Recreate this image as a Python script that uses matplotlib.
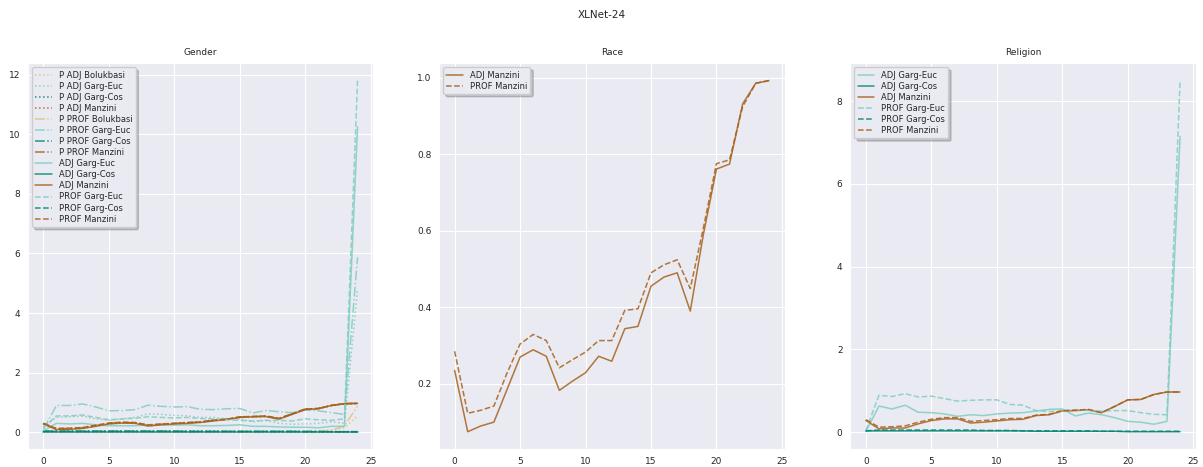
import matplotlib
matplotlib.use("Agg")
import matplotlib.pyplot as plt
import seaborn as sns

sns.set_style("darkgrid")
plt.rcParams['font.family'] = ['DejaVu Sans']

layers = list(range(25))

# colours per bias measure (BrBG)
c_boluk = '#dfc27d'
c_euc = '#80cdc1'
c_cos = '#018571'
c_manz = '#a6611a'

# ---------------- Gender ----------------
g_p_adj_boluk = [0.04, 0.03, 0.03, 0.03, 0.03, 0.03, 0.03, 0.03, 0.03, 0.03, 0.03, 0.03, 0.03,
                 0.03, 0.03, 0.03, 0.03, 0.03, 0.03, 0.03, 0.04, 0.05, 0.08, 0.15, 0.55]
g_p_adj_euc = [0.2, 0.5, 0.52, 0.54, 0.45, 0.4, 0.45, 0.5, 0.62, 0.6, 0.57, 0.55, 0.5,
               0.5, 0.45, 0.45, 0.35, 0.4, 0.3, 0.27, 0.28, 0.3, 0.35, 0.3, 4.8]
g_p_adj_cos = [0.03, 0.03, 0.03, 0.03, 0.03, 0.03, 0.03, 0.03, 0.03, 0.03, 0.03, 0.03, 0.03,
               0.03, 0.03, 0.02, 0.02, 0.02, 0.02, 0.02, 0.02, 0.02, 0.02, 0.02, 0.02]
g_p_adj_manz = [0.29, 0.1, 0.11, 0.14, 0.21, 0.29, 0.32, 0.31, 0.22, 0.26, 0.29, 0.31, 0.34,
                0.39, 0.43, 0.5, 0.52, 0.53, 0.45, 0.61, 0.77, 0.79, 0.9, 0.96, 0.97]
g_p_prof_boluk = [0.04, 0.02, 0.02, 0.02, 0.02, 0.02, 0.02, 0.02, 0.02, 0.02, 0.02, 0.02, 0.02,
                  0.02, 0.02, 0.02, 0.02, 0.02, 0.02, 0.02, 0.02, 0.02, 0.06, 0.22, 0.88]
g_p_prof_euc = [0.1, 0.9, 0.9, 0.95, 0.85, 0.72, 0.73, 0.76, 0.91, 0.87, 0.85, 0.86, 0.77,
                0.76, 0.79, 0.8, 0.65, 0.73, 0.69, 0.66, 0.75, 0.72, 0.66, 0.6, 5.87]
g_p_prof_cos = [0.04, 0.04, 0.04, 0.04, 0.04, 0.04, 0.04, 0.04, 0.04, 0.04, 0.04, 0.03, 0.03,
                0.03, 0.03, 0.03, 0.03, 0.03, 0.03, 0.03, 0.03, 0.03, 0.02, 0.02, 0.02]
g_p_prof_manz = [0.3, 0.12, 0.13, 0.15, 0.23, 0.3, 0.33, 0.32, 0.24, 0.27, 0.3, 0.32, 0.35,
                 0.4, 0.44, 0.51, 0.53, 0.54, 0.46, 0.62, 0.78, 0.8, 0.9, 0.96, 0.97]
g_adj_euc = [0.05, 0.3, 0.28, 0.3, 0.25, 0.22, 0.22, 0.22, 0.25, 0.25, 0.24, 0.25, 0.22,
             0.22, 0.23, 0.25, 0.2, 0.2, 0.18, 0.17, 0.17, 0.15, 0.2, 0.2, 10.25]
g_adj_cos = [0.02, 0.02, 0.02, 0.02, 0.02, 0.02, 0.02, 0.02, 0.02, 0.02, 0.02, 0.02, 0.02,
             0.02, 0.02, 0.02, 0.02, 0.02, 0.02, 0.02, 0.02, 0.02, 0.02, 0.02, 0.02]
g_adj_manz = [0.28, 0.09, 0.1, 0.13, 0.2, 0.28, 0.31, 0.3, 0.21, 0.25, 0.28, 0.3, 0.33,
              0.38, 0.43, 0.5, 0.52, 0.53, 0.44, 0.6, 0.76, 0.79, 0.9, 0.96, 0.97]
g_prof_euc = [0.15, 0.55, 0.55, 0.58, 0.5, 0.42, 0.45, 0.47, 0.52, 0.5, 0.48, 0.5, 0.46,
              0.45, 0.42, 0.4, 0.38, 0.4, 0.4, 0.38, 0.45, 0.42, 0.4, 0.45, 11.8]
g_prof_cos = [0.03, 0.03, 0.03, 0.03, 0.03, 0.03, 0.03, 0.03, 0.03, 0.03, 0.03, 0.03, 0.03,
              0.03, 0.03, 0.03, 0.03, 0.03, 0.03, 0.03, 0.02, 0.02, 0.02, 0.02, 0.02]
g_prof_manz = [0.3, 0.13, 0.14, 0.16, 0.24, 0.31, 0.34, 0.33, 0.25, 0.28, 0.3, 0.33, 0.35,
               0.41, 0.44, 0.52, 0.53, 0.55, 0.47, 0.62, 0.78, 0.8, 0.9, 0.96, 0.97]

# ---------------- Race ----------------
r_adj_manz = [0.235, 0.075, 0.09, 0.1, 0.185, 0.27, 0.289, 0.272, 0.183, 0.207, 0.229, 0.272, 0.259,
              0.344, 0.35, 0.455, 0.479, 0.49, 0.39, 0.59, 0.761, 0.774, 0.931, 0.985, 0.992]
r_prof_manz = [0.285, 0.123, 0.131, 0.142, 0.228, 0.304, 0.329, 0.313, 0.242, 0.263, 0.283, 0.313, 0.313,
               0.392, 0.396, 0.49, 0.511, 0.524, 0.449, 0.607, 0.775, 0.785, 0.924, 0.985, 0.992]

# ---------------- Religion ----------------
rl_adj_euc = [0.02, 0.63, 0.56, 0.65, 0.48, 0.47, 0.44, 0.38, 0.42, 0.4, 0.44, 0.46, 0.47,
              0.51, 0.55, 0.56, 0.39, 0.46, 0.42, 0.35, 0.26, 0.24, 0.19, 0.26, 7.15]
rl_adj_cos = [0.03, 0.03, 0.03, 0.03, 0.03, 0.03, 0.03, 0.03, 0.03, 0.03, 0.03, 0.03, 0.03,
              0.02, 0.02, 0.02, 0.02, 0.02, 0.02, 0.02, 0.01, 0.01, 0.01, 0.01, 0.01]
rl_adj_manz = [0.28, 0.08, 0.1, 0.1, 0.2, 0.28, 0.32, 0.32, 0.22, 0.24, 0.27, 0.3, 0.31,
               0.4, 0.42, 0.51, 0.52, 0.54, 0.47, 0.62, 0.78, 0.79, 0.91, 0.97, 0.97]
rl_prof_euc = [0.04, 0.89, 0.86, 0.93, 0.85, 0.87, 0.81, 0.75, 0.77, 0.78, 0.78, 0.67, 0.65,
               0.52, 0.5, 0.51, 0.54, 0.52, 0.51, 0.52, 0.52, 0.47, 0.43, 0.42, 8.5]
rl_prof_cos = [0.03, 0.05, 0.05, 0.05, 0.05, 0.05, 0.05, 0.05, 0.05, 0.04, 0.04, 0.04, 0.03,
               0.03, 0.03, 0.03, 0.03, 0.03, 0.02, 0.02, 0.02, 0.02, 0.02, 0.02, 0.02]
rl_prof_manz = [0.3, 0.12, 0.13, 0.15, 0.24, 0.31, 0.35, 0.35, 0.26, 0.28, 0.3, 0.33, 0.33,
                0.41, 0.43, 0.52, 0.53, 0.55, 0.47, 0.62, 0.78, 0.79, 0.91, 0.97, 0.97]

fs = 6.5
lw = 1.1
alpha = 0.85
fig, axes = plt.subplots(1, 3, figsize=(12.03, 4.67), dpi=100)
fig.subplots_adjust(left=0.023, right=0.994, bottom=0.038, top=0.865, wspace=0.19)
fig.suptitle("XLNet-24", fontsize=7.5, y=0.978)

ax = axes[0]
gender_series = [
    (g_p_adj_boluk, c_boluk, ':', "P ADJ Bolukbasi"),
    (g_p_adj_euc, c_euc, ':', "P ADJ Garg-Euc"),
    (g_p_adj_cos, c_cos, ':', "P ADJ Garg-Cos"),
    (g_p_adj_manz, c_manz, ':', "P ADJ Manzini"),
    (g_p_prof_boluk, c_boluk, '-.', "P PROF Bolukbasi"),
    (g_p_prof_euc, c_euc, '-.', "P PROF Garg-Euc"),
    (g_p_prof_cos, c_cos, '-.', "P PROF Garg-Cos"),
    (g_p_prof_manz, c_manz, '-.', "P PROF Manzini"),
    (g_adj_euc, c_euc, '-', "ADJ Garg-Euc"),
    (g_adj_cos, c_cos, '-', "ADJ Garg-Cos"),
    (g_adj_manz, c_manz, '-', "ADJ Manzini"),
    (g_prof_euc, c_euc, '--', "PROF Garg-Euc"),
    (g_prof_cos, c_cos, '--', "PROF Garg-Cos"),
    (g_prof_manz, c_manz, '--', "PROF Manzini"),
]
for vals, col, ls, lab in gender_series:
    ax.plot(layers, vals, color=col, linestyle=ls, label=lab, lw=lw, alpha=alpha)
ax.set_title("Gender", fontsize=fs)

ax = axes[1]
ax.plot(layers, r_adj_manz, color=c_manz, linestyle='-', label="ADJ Manzini", lw=lw, alpha=alpha)
ax.plot(layers, r_prof_manz, color=c_manz, linestyle='--', label="PROF Manzini", lw=lw, alpha=alpha)
ax.set_title("Race", fontsize=fs)

ax = axes[2]
religion_series = [
    (rl_adj_euc, c_euc, '-', "ADJ Garg-Euc"),
    (rl_adj_cos, c_cos, '-', "ADJ Garg-Cos"),
    (rl_adj_manz, c_manz, '-', "ADJ Manzini"),
    (rl_prof_euc, c_euc, '--', "PROF Garg-Euc"),
    (rl_prof_cos, c_cos, '--', "PROF Garg-Cos"),
    (rl_prof_manz, c_manz, '--', "PROF Manzini"),
]
for vals, col, ls, lab in religion_series:
    ax.plot(layers, vals, color=col, linestyle=ls, label=lab, lw=lw, alpha=alpha)
ax.set_title("Religion", fontsize=fs)

for ax in axes:
    ax.set_xticks([0, 5, 10, 15, 20, 25])
    ax.tick_params(axis='both', labelsize=fs, pad=2)
    ax.legend(loc='upper left', fontsize=fs - 0.5, shadow={'alpha': 0.25}, frameon=True,
              handlelength=2.0, labelspacing=0.25, borderpad=0.4)

plt.savefig("out.png", dpi=100)
